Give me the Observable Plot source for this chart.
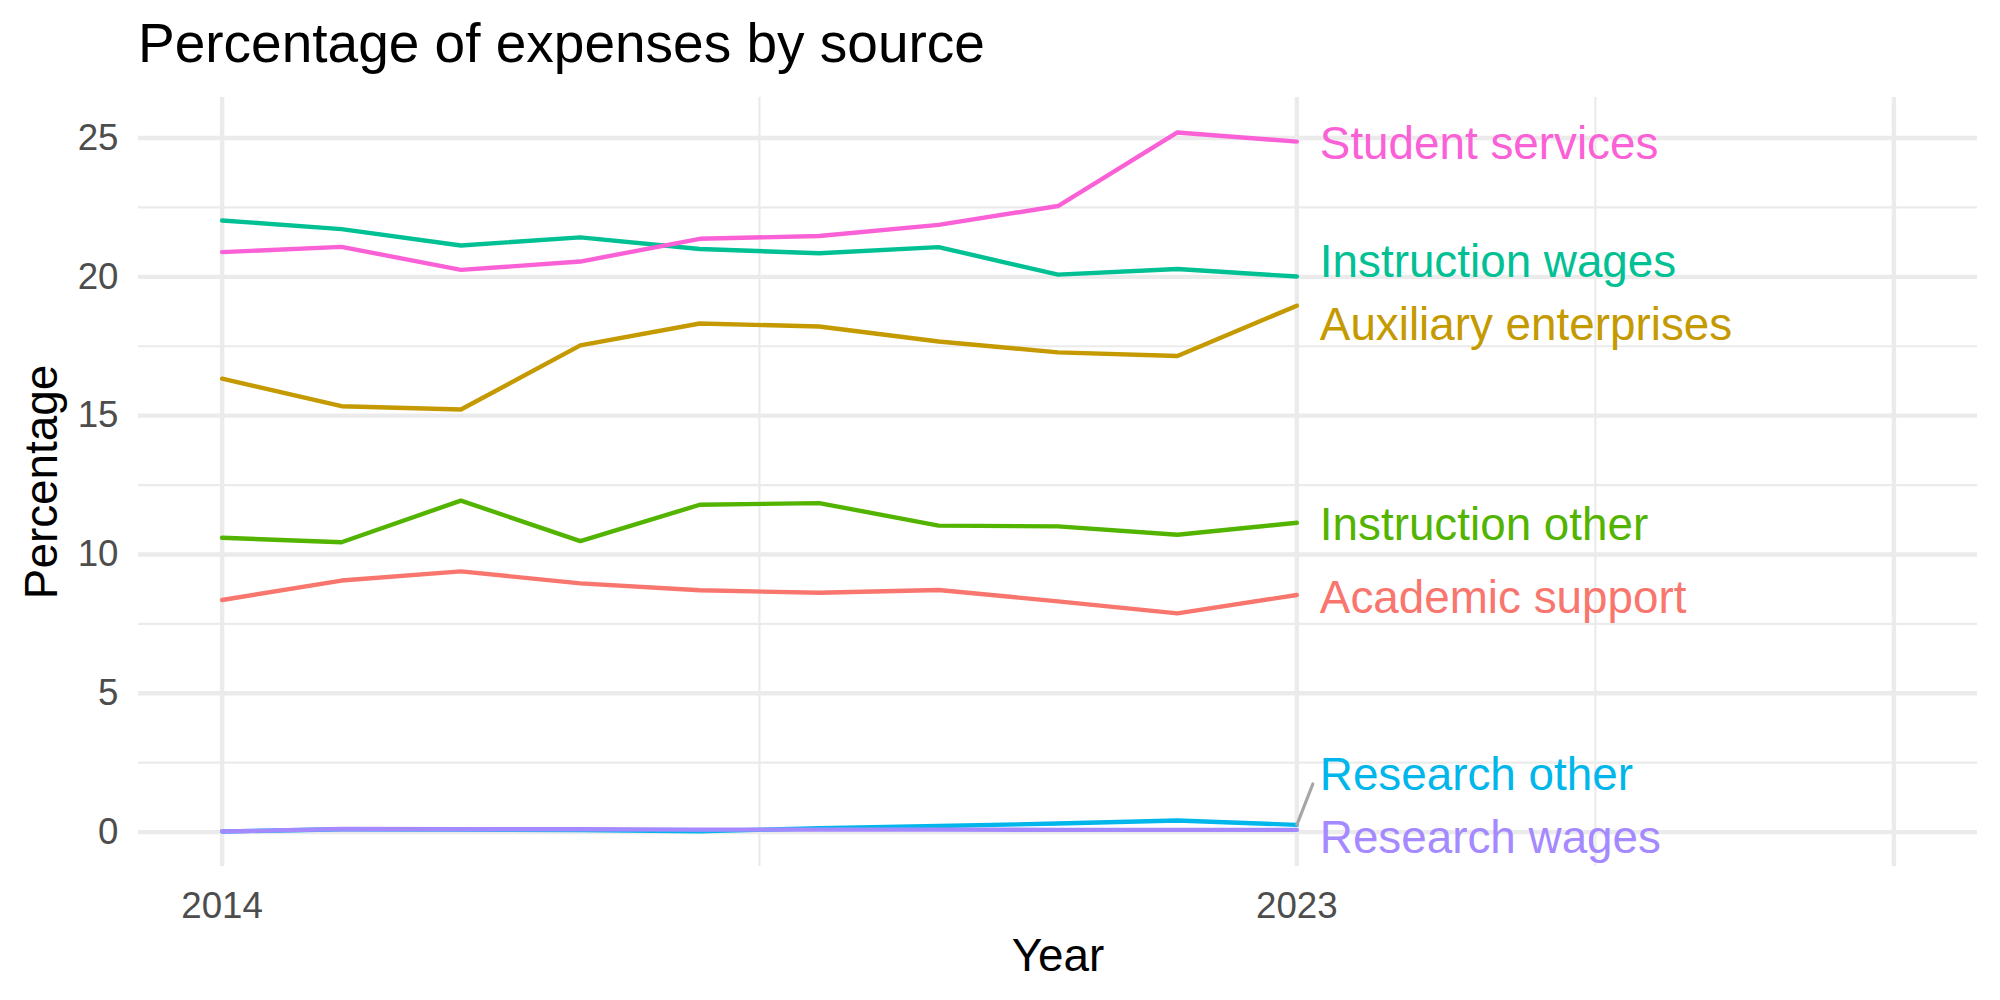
<!DOCTYPE html>
<html>
<head>
<meta charset="utf-8">
<script src="https://cdn.jsdelivr.net/npm/d3@7"></script>
<script src="https://cdn.jsdelivr.net/npm/@observablehq/plot@0.6"></script>
<style>
  html, body { margin: 0; padding: 0; background: #ffffff; }
  #chart { width: 2000px; height: 1000px; font-family: "Liberation Sans", Arial, Helvetica, sans-serif; }
  .title {
    box-sizing: border-box; height: 80px; padding: 16px 0 0 138px;
    font-size: 55px; line-height: 55px; color: #000000; white-space: nowrap;
  }
</style>
</head>
<body>
<div id="chart"><div class="title">Percentage of expenses by source</div></div>
<script>
// Share of expenses (%) per source, fiscal years 2014–2023
const years = [2014, 2015, 2016, 2017, 2018, 2019, 2020, 2021, 2022, 2023];
const sources = [
  "Academic support", "Auxiliary enterprises", "Instruction other",
  "Instruction wages", "Research other", "Research wages", "Student services"
];
const academicSupport      = [8.36, 9.06, 9.39, 8.96, 8.71, 8.62, 8.72, 8.31, 7.88, 8.54];
const auxiliaryEnterprises = [16.33, 15.34, 15.22, 17.53, 18.32, 18.21, 17.67, 17.28, 17.15, 18.96];
const instructionOther     = [10.60, 10.44, 11.94, 10.48, 11.79, 11.85, 11.04, 11.01, 10.71, 11.14];
const instructionWages     = [22.03, 21.72, 21.13, 21.42, 21.00, 20.85, 21.07, 20.08, 20.28, 20.01];
const researchOther        = [0.02, 0.10, 0.09, 0.07, 0.03, 0.14, 0.22, 0.31, 0.42, 0.26];
const researchWages        = [0.02, 0.11, 0.10, 0.10, 0.09, 0.09, 0.09, 0.08, 0.08, 0.08];
const studentServices      = [20.89, 21.08, 20.25, 20.55, 21.37, 21.47, 21.87, 22.55, 25.20, 24.87];

// Axis breaks
const xBreaks = [2014, 2023, 2028];
const xTickLabels = [2014, 2023];
const yBreaks = [0, 5, 10, 15, 20, 25];

const seriesValues = [
  academicSupport, auxiliaryEnterprises, instructionOther, instructionWages,
  researchOther, researchWages, studentServices
];
const palette = ["#F8766D", "#C49A00", "#53B400", "#00C094", "#00B6EB", "#A58AFF", "#FB61D7"];

// Long-format table for the line mark
const rows = [];
sources.forEach((source, s) => {
  years.forEach((year, i) => rows.push({source, year, value: seriesValues[s][i]}));
});

// Layout
const width = 2000, height = 920;
const marginTop = 17, marginBottom = 134, marginLeft = 138, marginRight = 23;

// Scale domains with 5% padding on each side
const expand = ([a, b]) => [a - 0.05 * (b - a), b + 0.05 * (b - a)];
const xDomain = expand([years[0], xBreaks[xBreaks.length - 1]]);
const yDomain = expand(d3.extent(rows, d => d.value));

// Minor grid lines halfway between breaks
const mids = b => b.slice(1).map((v, i) => (v + b[i]) / 2);
const xMinor = mids(xBreaks);
const yMinor = mids(yBreaks);

// Pixel mapping used to keep end labels from overlapping
const xPx = d3.scaleLinear(xDomain, [marginLeft, width - marginRight]);
const yPx = d3.scaleLinear(yDomain, [height - marginBottom, marginTop]);
const boxHeight = 63;
const lastYear = years[years.length - 1];
const labels = sources.map((source, s) => {
  const value = seriesValues[s][years.length - 1];
  return {source, value, x: lastYear, py: yPx(value)};
});
const lo = marginTop + boxHeight / 2, hi = height - marginBottom - boxHeight / 2;
for (let iter = 0; iter < 500; iter++) {
  labels.sort((a, b) => a.py - b.py);
  for (let i = 1; i < labels.length; i++) {
    const gap = labels[i].py - labels[i - 1].py;
    if (gap < boxHeight) {
      const push = (boxHeight - gap) / 2;
      labels[i - 1].py -= push;
      labels[i].py += push;
    }
  }
  labels.forEach(l => { l.py = Math.max(lo, Math.min(hi, l.py)); });
}
labels.forEach(l => { l.ly = yPx.invert(l.py); });

// Leader lines for labels that moved far from their line end
const leaders = labels
  .filter(l => Math.abs(l.py - yPx(l.value)) > 30)
  .map(l => ({
    x: l.x, value: l.value,
    xEnd: xPx.invert(xPx(l.x) + 16),
    yEnd: yPx.invert(l.py + (yPx(l.value) > l.py ? 12 : -12))
  }));

const gridColor = "#EBEBEB";
const axisGrey = "#4D4D4D";

const chart = Plot.plot({
  width, height, marginTop, marginBottom, marginLeft, marginRight,
  x: {domain: xDomain},
  y: {domain: yDomain},
  color: {domain: sources, range: palette},
  style: {fontFamily: "'Liberation Sans', Arial, Helvetica, sans-serif", background: "transparent", overflow: "visible"},
  marks: [
    Plot.gridY(yMinor, {stroke: gridColor, strokeOpacity: 1, strokeWidth: 2.2}),
    Plot.gridX(xMinor, {stroke: gridColor, strokeOpacity: 1, strokeWidth: 2.2}),
    Plot.gridY(yBreaks, {stroke: gridColor, strokeOpacity: 1, strokeWidth: 4.4}),
    Plot.gridX(xBreaks, {stroke: gridColor, strokeOpacity: 1, strokeWidth: 4.4}),
    Plot.axisX(xTickLabels, {tickSize: 0, tickPadding: 25, tickFormat: d => String(d), fontSize: 36.7, fill: axisGrey, label: null}),
    Plot.axisX([], {tickSize: 0, label: "Year", labelAnchor: "center", labelArrow: "none", labelOffset: 104, fontSize: 45.8, fill: "#000000"}),
    Plot.axisY(yBreaks, {tickSize: 0, tickPadding: 20, tickFormat: d => String(d), fontSize: 36.7, fill: axisGrey, label: null}),
    Plot.axisY([], {tickSize: 0, label: "Percentage", labelAnchor: "center", labelArrow: "none", labelOffset: 114.5, fontSize: 45.8, fill: "#000000"}),
    Plot.line(rows, {x: "year", y: "value", z: "source", stroke: "source", strokeWidth: 4.4, strokeLinejoin: "round"}),
    Plot.link(leaders, {x1: "x", y1: "value", x2: "xEnd", y2: "yEnd", stroke: "#A6A6A6", strokeWidth: 3.2, strokeLinecap: "round"}),
    Plot.text(labels, {x: "x", y: "ly", text: "source", fill: "source", textAnchor: "start", lineAnchor: "middle", dx: 23, dy: 3, fontSize: 45.8})
  ]
});
document.getElementById("chart").appendChild(chart);
</script>
</body>
</html>
